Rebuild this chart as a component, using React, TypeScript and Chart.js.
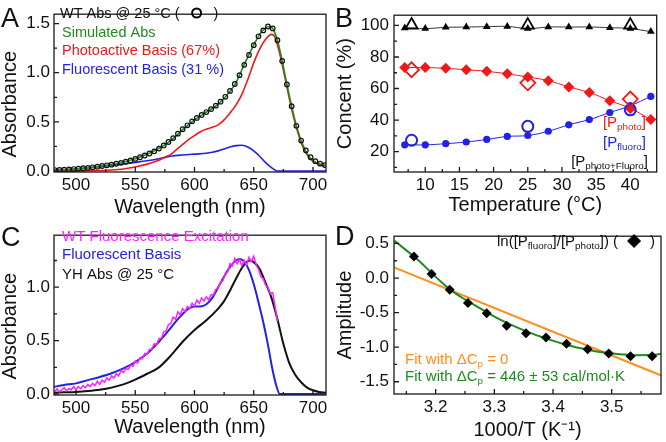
import React, { useEffect, useRef } from "react";
import { Chart, registerables } from "chart.js";

Chart.register(...registerables);

const FONT = "Arial, 'Liberation Sans', Helvetica, sans-serif";
Chart.defaults.font.family = FONT;

// ---------------- Panel A: absorbance decomposition ----------------
const aWtNm = [482, 486, 490, 494, 498, 502, 506, 510, 514, 518, 522, 526, 530, 534, 538, 542, 546, 550, 554, 558, 562, 566, 570, 574, 578, 582, 586, 590, 594, 598, 602, 606, 610, 614, 618, 622, 626, 630, 634, 638, 642, 646, 650, 654, 658, 662, 666, 670, 674, 678, 682, 686, 690, 694, 698, 702, 706, 710];
const aWtAbs = [0.010, 0.012, 0.014, 0.017, 0.020, 0.024, 0.028, 0.032, 0.038, 0.044, 0.051, 0.058, 0.065, 0.074, 0.083, 0.094, 0.107, 0.123, 0.140, 0.158, 0.178, 0.200, 0.228, 0.260, 0.295, 0.335, 0.380, 0.425, 0.465, 0.505, 0.540, 0.570, 0.600, 0.630, 0.665, 0.705, 0.755, 0.815, 0.885, 0.975, 1.08, 1.18, 1.28, 1.37, 1.43, 1.47, 1.45, 1.33, 1.12, 0.88, 0.66, 0.46, 0.31, 0.21, 0.14, 0.10, 0.075, 0.06];

const aSimNm = [480, 490, 500, 510, 520, 530, 540, 550, 560, 570, 580, 590, 600, 610, 620, 630, 635, 640, 645, 650, 655, 660, 663, 666, 670, 674, 678, 682, 686, 690, 694, 698, 702, 706, 711];
const aSimAbs = [0.008, 0.014, 0.022, 0.032, 0.048, 0.065, 0.09, 0.125, 0.17, 0.23, 0.31, 0.42, 0.52, 0.60, 0.68, 0.81, 0.90, 1.03, 1.16, 1.28, 1.39, 1.455, 1.47, 1.45, 1.33, 1.12, 0.88, 0.66, 0.46, 0.31, 0.20, 0.13, 0.09, 0.07, 0.058];

const aPhotoNm = [480, 490, 500, 510, 520, 530, 540, 550, 560, 570, 575, 580, 585, 590, 595, 600, 605, 610, 615, 620, 625, 630, 635, 640, 645, 650, 655, 660, 665, 668, 672, 676, 680, 684, 688, 692, 696, 700, 705, 711];
const aPhotoAbs = [0, 0, 0, 0.002, 0.005, 0.01, 0.02, 0.04, 0.07, 0.11, 0.14, 0.17, 0.22, 0.27, 0.32, 0.36, 0.40, 0.425, 0.445, 0.47, 0.52, 0.59, 0.67, 0.78, 0.93, 1.10, 1.24, 1.34, 1.39, 1.36, 1.19, 0.97, 0.74, 0.53, 0.36, 0.23, 0.15, 0.10, 0.07, 0.05];

const aFluorNm = [480, 490, 500, 510, 520, 530, 540, 550, 560, 570, 580, 590, 600, 610, 615, 620, 625, 630, 635, 640, 645, 650, 655, 660, 665, 670, 711];
const aFluorAbs = [0.005, 0.012, 0.02, 0.032, 0.045, 0.058, 0.072, 0.088, 0.105, 0.125, 0.15, 0.163, 0.172, 0.18, 0.19, 0.205, 0.225, 0.245, 0.258, 0.262, 0.245, 0.205, 0.15, 0.085, 0.035, 0, 0];

// ---------------- Panel B: concentrations vs temperature ----------------
const bTemp = [7, 10, 13, 16, 19, 22, 25, 28, 31, 34, 37, 40, 43];
const bTotal = [98.4, 98.0, 98.8, 99.0, 99.2, 99.4, 98.0, 99.0, 99.0, 99.0, 98.6, 98.0, 96.1];
const bPhoto = [73.3, 73.3, 72.8, 71.9, 70.9, 69.3, 67.3, 65.0, 61.0, 57.5, 52.3, 47.4, 40.3];
const bFluoro = [24.3, 24.3, 25.0, 26.1, 27.7, 29.6, 30.2, 32.9, 37.0, 40.3, 44.8, 49.1, 55.0];
const bOpenTemp = [8, 25, 40];
const bTotalOpen = [100.3, 100.2, 100.2];
const bPhotoOpen = [71.9, 63.6, 53.3];
const bFluoroOpen = [27.2, 36.0, 46.5];

// ---------------- Panel C: excitation / basis / YH ----------------
const cExcNm = [482, 484, 486, 488, 490, 492, 494, 496, 498, 500, 502, 504, 506, 508, 510, 512, 514, 516, 518, 520, 522, 524, 526, 528, 530, 532, 534, 536, 538, 540, 542, 544, 546, 548, 550, 552, 554, 556, 558, 560, 562, 564, 566, 568, 570, 572, 574, 576, 578, 580, 582, 584, 586, 588, 590, 592, 594, 596, 598, 600, 602, 604, 606, 608, 610, 612, 614, 616, 618, 620, 622, 624, 626, 628, 630, 632, 634, 636, 638, 640, 642, 644, 646, 648, 650, 652, 654, 656, 658, 660, 662, 664, 666, 668, 670];
const cExcVal = [
  0.02, 0.05, 0.02, 0.04, 0.06, 0.03, 0.05, 0.04, 0.07, 0.04,
  0.07, 0.05, 0.08, 0.06, 0.09, 0.07, 0.10, 0.08, 0.12, 0.09,
  0.13, 0.11, 0.15, 0.13, 0.17, 0.15, 0.19, 0.17, 0.22, 0.20,
  0.24, 0.23, 0.27, 0.26, 0.31, 0.29, 0.34, 0.33, 0.38, 0.37,
  0.42, 0.42, 0.47, 0.46, 0.52, 0.52, 0.58, 0.59, 0.65, 0.66,
  0.72, 0.70, 0.77, 0.74, 0.80, 0.77, 0.82, 0.80, 0.85, 0.82,
  0.88, 0.85, 0.90, 0.87, 0.91, 0.88, 0.93, 0.93, 0.98, 0.99,
  1.05, 1.06, 1.13, 1.14, 1.22, 1.20, 1.27, 1.22, 1.26, 1.20,
  1.25, 1.21, 1.28, 1.24, 1.29, 1.21, 1.17, 1.10, 1.08, 1.02,
  1.00, 0.94, 0.95, 0.82, 0.68,
];

const cBasisNm = [480, 490, 500, 510, 520, 530, 540, 550, 560, 570, 580, 585, 590, 595, 600, 605, 610, 615, 620, 625, 630, 635, 638, 642, 646, 650, 654, 658, 662, 666, 669, 672, 711];
const cBasisVal = [0.065, 0.085, 0.10, 0.13, 0.16, 0.195, 0.24, 0.30, 0.38, 0.49, 0.62, 0.69, 0.75, 0.80, 0.82, 0.82, 0.84, 0.90, 1.00, 1.10, 1.19, 1.25, 1.265, 1.24, 1.16, 1.03, 0.86, 0.675, 0.46, 0.22, 0.08, 0, 0];

const cYhNm = [480, 490, 500, 510, 520, 530, 540, 550, 560, 570, 580, 590, 600, 610, 620, 625, 630, 635, 640, 644, 647, 650, 655, 660, 665, 670, 675, 680, 685, 690, 695, 700, 705, 711];
const cYhVal = [0.012, 0.016, 0.02, 0.028, 0.04, 0.06, 0.09, 0.135, 0.19, 0.25, 0.36, 0.49, 0.60, 0.69, 0.80, 0.87, 0.97, 1.08, 1.18, 1.235, 1.25, 1.235, 1.17, 1.04, 0.90, 0.70, 0.47, 0.29, 0.18, 0.11, 0.06, 0.035, 0.02, 0.012];

// ---------------- Panel D: van 't Hoff ----------------
const dInvT = [3.163, 3.193, 3.224, 3.255, 3.287, 3.321, 3.354, 3.388, 3.423, 3.459, 3.495, 3.532, 3.569];
const dLnRatio = [0.31, 0.06, -0.17, -0.36, -0.51, -0.69, -0.80, -0.86, -0.95, -1.03, -1.09, -1.13, -1.13];
const dFitX = [3.13, 3.15, 3.17, 3.19, 3.21, 3.23, 3.25, 3.27, 3.29, 3.31, 3.33, 3.36, 3.39, 3.42, 3.45, 3.48, 3.51, 3.54, 3.57, 3.585];
const dFitY = [0.54, 0.40, 0.26, 0.10, -0.06, -0.20, -0.31, -0.41, -0.51, -0.60, -0.68, -0.79, -0.88, -0.96, -1.02, -1.07, -1.10, -1.115, -1.11, -1.095];
const dLinX = [3.13, 3.585];
const dLinY = [0.15, -1.41];

// ---------------- colours ----------------
const RED = "#f01818";
const BLUE = "#2222e6";
const GREEN = "#1f8a1f";
const MAGENTA = "#ff22ff";
const ORANGE = "#ff8c1a";
const BLACK = "#111111";

// ---------------- helpers ----------------
const xy = (xs: number[], ys: number[]) => xs.map((x, i) => ({ x, y: ys[i] }));

const lineDs = (xs: number[], ys: number[], color: string, width: number, order: number, extra: any = {}) => ({
  data: xy(xs, ys),
  showLine: true,
  borderColor: color,
  backgroundColor: color,
  borderWidth: width,
  pointRadius: 0,
  order,
  cubicInterpolationMode: "monotone",
  ...extra,
});

const pointDs = (xs: number[], ys: number[], style: string, radius: number, stroke: string, fill: string, bw: number, order: number) => ({
  data: xy(xs, ys),
  showLine: false,
  pointStyle: style,
  pointRadius: radius,
  pointBorderColor: stroke,
  pointBackgroundColor: fill,
  pointBorderWidth: bw,
  borderColor: stroke,
  backgroundColor: fill,
  order,
});

type Seg = string | { sub: string } | { marker: "circle" | "diamond"; w: number };
type TextItem = { x: number; cy: number; color: string; size: number; segs: Seg[]; align?: "left" | "right" };

function makeDecor(cfg: {
  xStep: number; xMinor: number; yStep: number; yMinor: number;
  letter: { t: string; x: number; base: number };
  texts: TextItem[];
}) {
  return {
    id: "decor",
    afterDraw(chart: any) {
      const ctx: CanvasRenderingContext2D = chart.ctx;
      const { left, right, top, bottom } = chart.chartArea;
      ctx.save();
      ctx.strokeStyle = "#1a1a1a";
      ctx.lineWidth = 1.3;
      const ticks = (scale: any, step: number, minor: number, horiz: boolean) => {
        const k0 = Math.ceil(scale.min / minor - 1e-6);
        const k1 = Math.floor(scale.max / minor + 1e-6);
        for (let k = k0; k <= k1; k++) {
          const v = k * minor;
          const r = v / step;
          const major = Math.abs(r - Math.round(r)) < 1e-6;
          const len = major ? 5 : 3;
          const p = scale.getPixelForValue(v);
          if (horiz) { ctx.moveTo(p, bottom); ctx.lineTo(p, bottom - len); }
          else { ctx.moveTo(left, p); ctx.lineTo(left + len, p); }
        }
      };
      ctx.beginPath();
      ticks(chart.scales.x, cfg.xStep, cfg.xMinor, true);
      ticks(chart.scales.y, cfg.yStep, cfg.yMinor, false);
      ctx.stroke();
      ctx.strokeRect(left, top, right - left, bottom - top);

      // panel letter
      ctx.fillStyle = BLACK;
      ctx.textAlign = "left";
      ctx.textBaseline = "alphabetic";
      ctx.font = `27px ${FONT}`;
      ctx.fillText(cfg.letter.t, cfg.letter.x, cfg.letter.base);

      // annotation texts
      for (const it of cfg.texts) {
        const subSize = it.size * 0.66;
        const base = it.cy + it.size * 0.36;
        const widthOf = (s: Seg) => {
          if (typeof s === "string") { ctx.font = `${it.size}px ${FONT}`; return ctx.measureText(s).width; }
          if ("sub" in s) { ctx.font = `${subSize}px ${FONT}`; return ctx.measureText(s.sub).width; }
          return s.w;
        };
        const total = it.segs.reduce((a, s) => a + widthOf(s), 0);
        let x = it.align === "right" ? it.x - total : it.x;
        for (const s of it.segs) {
          const w = widthOf(s);
          ctx.fillStyle = it.color;
          if (typeof s === "string") ctx.fillText(s, x, base);
          else if ("sub" in s) ctx.fillText(s.sub, x, base + it.size * 0.2);
          else {
            const cx = x + w / 2;
            if (s.marker === "circle") {
              ctx.beginPath();
              ctx.lineWidth = 2;
              ctx.strokeStyle = "#000";
              ctx.arc(cx, it.cy, 4.5, 0, Math.PI * 2);
              ctx.stroke();
            } else {
              ctx.beginPath();
              ctx.fillStyle = "#000";
              ctx.moveTo(cx, it.cy - 7);
              ctx.lineTo(cx + 7, it.cy);
              ctx.lineTo(cx, it.cy + 7);
              ctx.lineTo(cx - 7, it.cy);
              ctx.closePath();
              ctx.fill();
            }
          }
          x += w;
        }
      }
      ctx.restore();
    },
  };
}

type AxisSpec = { min: number; max: number; step: number; dec: number; title: string; pad: number; tpad: number };

function makeOptions(W: number, H: number, area: { left: number; top: number; right: number; bottom: number }, xs: AxisSpec, ys: AxisSpec) {
  return {
    responsive: false,
    maintainAspectRatio: false,
    animation: false,
    devicePixelRatio: 1,
    events: [],
    layout: { padding: { left: 0, top: area.top, right: W - area.right, bottom: 0 } },
    plugins: { legend: { display: false }, tooltip: { enabled: false }, title: { display: false } },
    scales: {
      x: {
        type: "linear",
        position: "bottom",
        min: xs.min,
        max: xs.max,
        afterFit: (s: any) => { s.height = H - area.bottom; },
        grid: { display: false, drawTicks: false },
        border: { display: false },
        ticks: {
          stepSize: xs.step,
          includeBounds: false,
          autoSkip: false,
          maxRotation: 0,
          padding: xs.pad,
          color: BLACK,
          font: { size: 17, family: FONT },
          callback: (v: any) => Number(v).toFixed(xs.dec),
        },
        title: { display: true, text: xs.title, color: BLACK, font: { size: 20, family: FONT, lineHeight: 1 }, padding: { top: 0, bottom: xs.tpad } },
      },
      y: {
        type: "linear",
        position: "left",
        min: ys.min,
        max: ys.max,
        afterFit: (s: any) => { s.width = area.left; },
        grid: { display: false, drawTicks: false },
        border: { display: false },
        ticks: {
          stepSize: ys.step,
          includeBounds: false,
          autoSkip: false,
          padding: ys.pad,
          color: BLACK,
          font: { size: 17, family: FONT },
          callback: (v: any) => Number(v).toFixed(ys.dec),
        },
        title: { display: true, text: ys.title, color: BLACK, font: { size: 20, family: FONT, lineHeight: 1 }, padding: { top: ys.tpad, bottom: 0 } },
      },
    },
  };
}

const W = 333;
const H = 221;

function buildA() {
  const area = { left: 54, top: 3, right: 326, bottom: 172 };
  return {
    type: "scatter",
    data: {
      datasets: [
        pointDs(aWtNm, aWtAbs, "circle", 2.3, "#111", "rgba(0,0,0,0)", 1.2, 0),
        lineDs(aSimNm, aSimAbs, GREEN, 1.6, 1),
        lineDs(aPhotoNm, aPhotoAbs, RED, 1.6, 2),
        lineDs(aFluorNm, aFluorAbs, BLUE, 1.6, 3),
      ],
    },
    options: makeOptions(W, H, area,
      { min: 481.4, max: 711, step: 50, dec: 0, title: "Wavelength (nm)", pad: 3, tpad: 4 },
      { min: -0.01, max: 1.595, step: 0.5, dec: 1, title: "Absorbance    ", pad: 4, tpad: 0 }),
    plugins: [makeDecor({
      xStep: 50, xMinor: 25, yStep: 0.5, yMinor: 0.25,
      letter: { t: "A", x: 1, base: 27 },
      texts: [
        { x: 60, cy: 13, color: BLACK, size: 14.5, segs: ["WT Abs @ 25 °C (", { marker: "circle", w: 34 }, ")"] },
        { x: 62, cy: 32, color: GREEN, size: 14.5, segs: ["Simulated Abs"] },
        { x: 62, cy: 50, color: RED, size: 14.5, segs: ["Photoactive Basis (67%)"] },
        { x: 62, cy: 69, color: BLUE, size: 14.5, segs: ["Fluorescent Basis (31 %)"] },
      ],
    })],
  };
}

function buildB() {
  const area = { left: 61, top: 3, right: 330, bottom: 172 };
  return {
    type: "scatter",
    data: {
      datasets: [
        pointDs(bOpenTemp, bTotalOpen, "triangle", 7, "#000", "rgba(0,0,0,0)", 1.8, 0),
        pointDs(bOpenTemp, bPhotoOpen, "rectRot", 7.5, RED, "rgba(0,0,0,0)", 1.8, 0),
        pointDs(bOpenTemp, bFluoroOpen, "circle", 5.5, BLUE, "rgba(0,0,0,0)", 2, 0),
        lineDs(bTemp, bTotal, "#333", 1, 1, { pointRadius: 4.5, pointStyle: "triangle", pointBackgroundColor: "#000", pointBorderColor: "#000", pointBorderWidth: 0, tension: 0.4, cubicInterpolationMode: "default" }),
        lineDs(bTemp, bPhoto, RED, 1, 2, { pointRadius: 5.5, pointStyle: "rectRot", pointBackgroundColor: RED, pointBorderColor: RED, pointBorderWidth: 0, tension: 0.4, cubicInterpolationMode: "default" }),
        lineDs(bTemp, bFluoro, BLUE, 1, 3, { pointRadius: 3.6, pointStyle: "circle", pointBackgroundColor: BLUE, pointBorderColor: BLUE, pointBorderWidth: 0, tension: 0.4, cubicInterpolationMode: "default" }),
      ],
    },
    options: makeOptions(W, H, area,
      { min: 5.43, max: 43.86, step: 5, dec: 0, title: "Temperature (°C)", pad: 3, tpad: 6 },
      { min: 7.06, max: 106.5, step: 20, dec: 0, title: "Concent (%)", pad: 5, tpad: 2 }),
    plugins: [makeDecor({
      xStep: 5, xMinor: 2.5, yStep: 20, yMinor: 10,
      letter: { t: "B", x: 2, base: 27 },
      texts: [
        { x: 313, cy: 122, color: RED, size: 15, align: "right", segs: ["[P", { sub: "photo" }, "]"] },
        { x: 313, cy: 142, color: BLUE, size: 15, align: "right", segs: ["[P", { sub: "fluoro" }, "]"] },
        { x: 315, cy: 161, color: BLACK, size: 15, align: "right", segs: ["[P", { sub: "photo+Fluoro" }, "]"] },
      ],
    })],
  };
}

function buildC() {
  const area = { left: 54, top: 5, right: 326, bottom: 174 };
  return {
    type: "scatter",
    data: {
      datasets: [
        lineDs(cExcNm, cExcVal, MAGENTA, 1.5, 0, { cubicInterpolationMode: "default", tension: 0 }),
        lineDs(cBasisNm, cBasisVal, BLUE, 2, 1),
        lineDs(cYhNm, cYhVal, BLACK, 2, 2),
      ],
    },
    options: makeOptions(W, H, area,
      { min: 481.4, max: 711, step: 50, dec: 0, title: "Wavelength (nm)", pad: 3, tpad: 5 },
      { min: -0.009, max: 1.487, step: 0.5, dec: 1, title: "Absorbance    ", pad: 4, tpad: 0 }),
    plugins: [makeDecor({
      xStep: 50, xMinor: 25, yStep: 0.5, yMinor: 0.25,
      letter: { t: "C", x: 1, base: 25 },
      texts: [
        { x: 62, cy: 15, color: MAGENTA, size: 15, segs: ["WT Fluorescence Excitation"] },
        { x: 62, cy: 33, color: BLUE, size: 15, segs: ["Fluorescent Basis"] },
        { x: 62, cy: 53, color: BLACK, size: 15, segs: ["YH Abs @ 25 °C"] },
      ],
    })],
  };
}

function buildD() {
  const area = { left: 61, top: 5, right: 331, bottom: 173 };
  return {
    type: "scatter",
    data: {
      datasets: [
        pointDs(dInvT, dLnRatio, "rectRot", 5, "#000", "#000", 0, 0),
        lineDs(dFitX, dFitY, GREEN, 2, 1),
        lineDs(dLinX, dLinY, ORANGE, 2, 2),
      ],
    },
    options: makeOptions(W, H, area,
      { min: 3.129, max: 3.584, step: 0.1, dec: 1, title: "1000/T (K⁻¹)", pad: 3, tpad: 2 },
      { min: -1.677, max: 0.605, step: 0.5, dec: 1, title: "Amplitude", pad: 5, tpad: 2 }),
    plugins: [makeDecor({
      xStep: 0.1, xMinor: 0.05, yStep: 0.5, yMinor: 0.25,
      letter: { t: "D", x: 2, base: 24 },
      texts: [
        { x: 164, cy: 20, color: BLACK, size: 15, segs: ["ln([P", { sub: "fluoro" }, "]/[P", { sub: "photo" }, "]) (", { marker: "diamond", w: 32 }, ")"] },
        { x: 72, cy: 138, color: ORANGE, size: 15, segs: ["Fit with ΔC", { sub: "p" }, " = 0"] },
        { x: 72, cy: 155, color: GREEN, size: 15, segs: ["Fit with ΔC", { sub: "p" }, " = 446 ± 53 cal/mol·K"] },
      ],
    })],
  };
}

function Panel({ left, top, build }: { left: number; top: number; build: () => any }) {
  const ref = useRef<HTMLCanvasElement>(null);
  useEffect(() => {
    const chart = new Chart(ref.current as HTMLCanvasElement, build());
    return () => chart.destroy();
  }, []);
  return (
    <canvas
      ref={ref}
      width={W}
      height={H}
      style={{ position: "absolute", left, top, width: W, height: H, display: "block" }}
    />
  );
}

export default function App() {
  return (
    <div style={{ position: "absolute", left: 0, top: 0, width: 666, height: 442, background: "#ffffff", overflow: "hidden" }}>
      <Panel left={0} top={0} build={buildA} />
      <Panel left={333} top={0} build={buildB} />
      <Panel left={0} top={221} build={buildC} />
      <Panel left={333} top={221} build={buildD} />
    </div>
  );
}
